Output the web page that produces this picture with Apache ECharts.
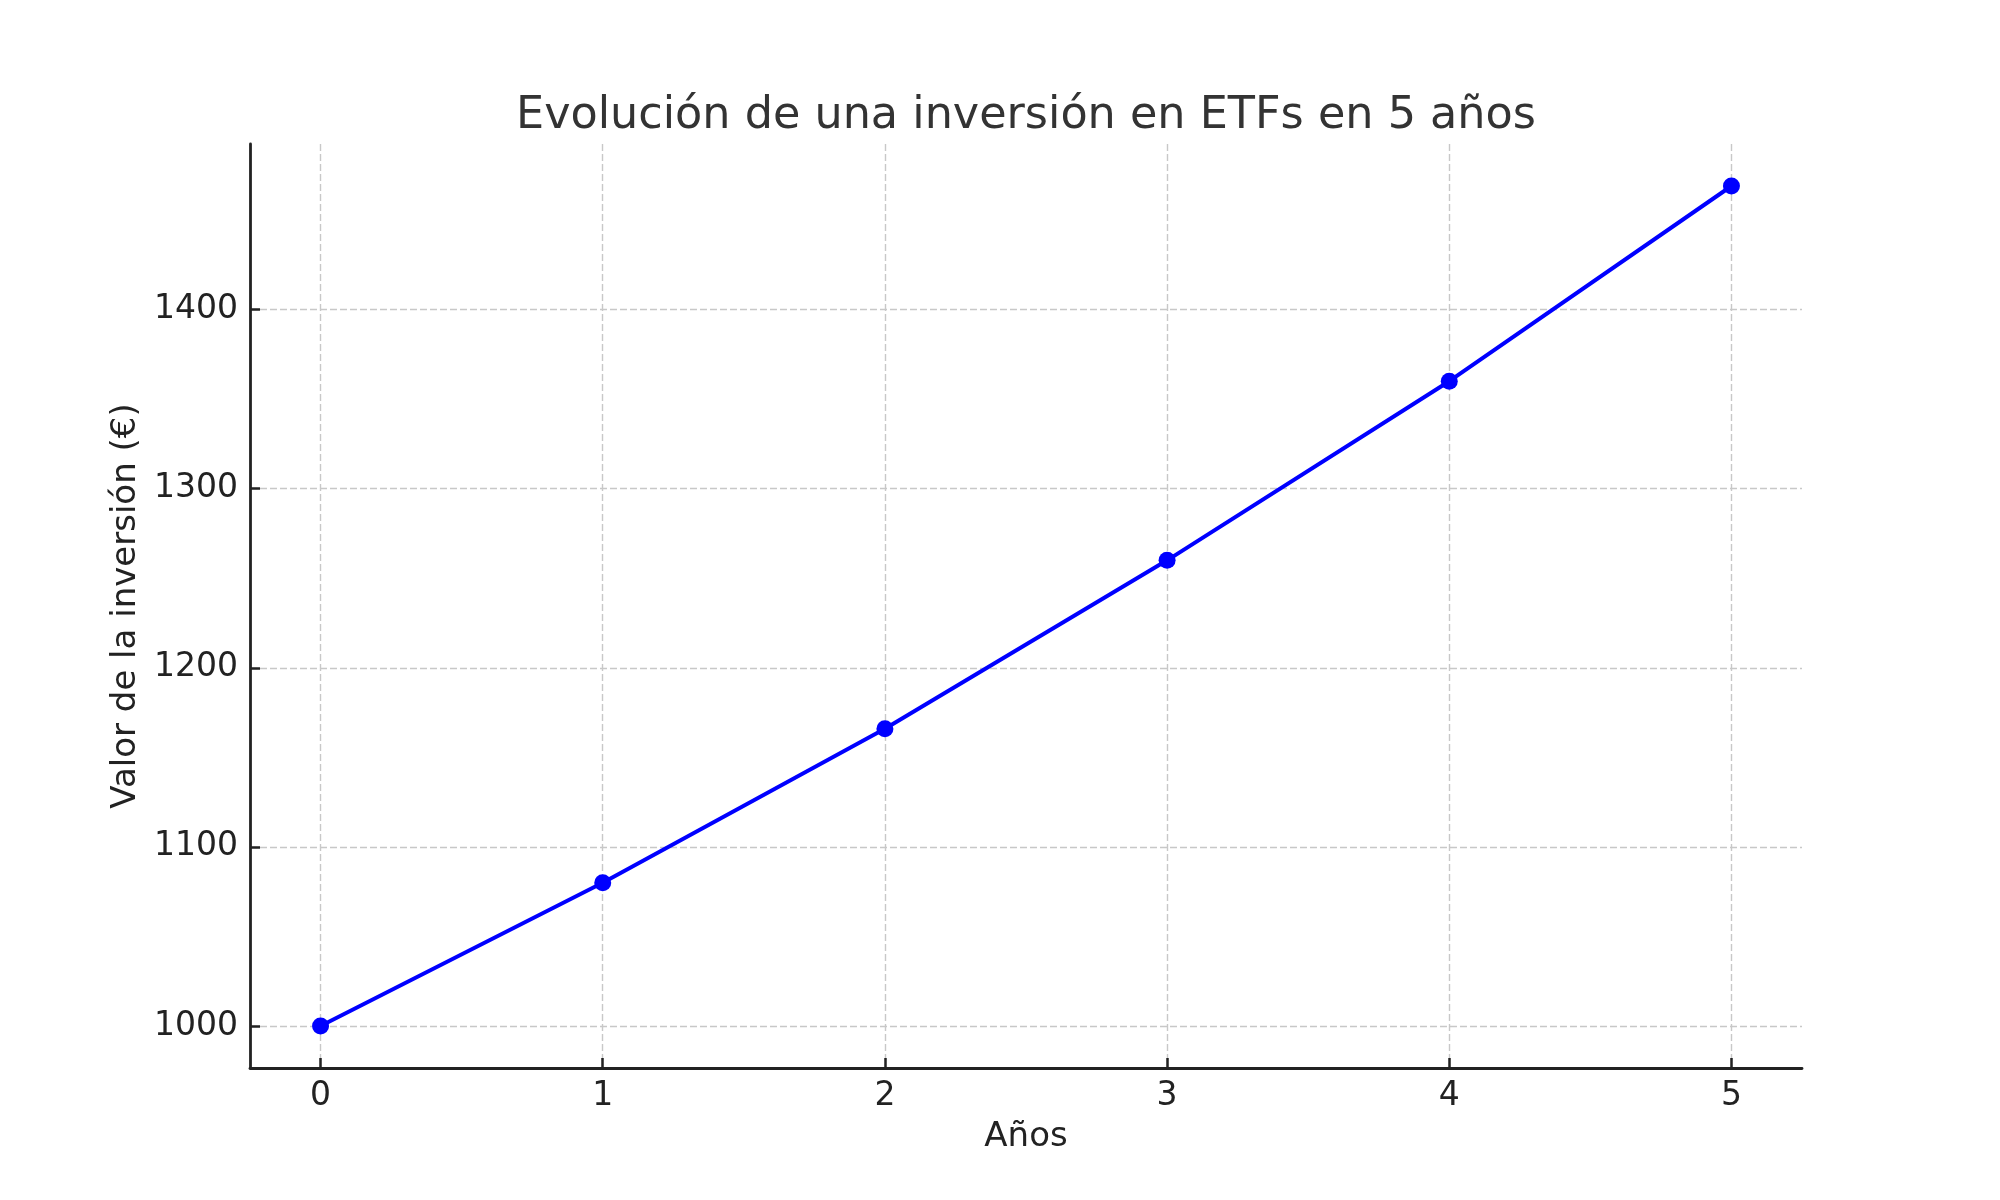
<!DOCTYPE html>
<html>
<head>
<meta charset="utf-8">
<script src="https://cdn.jsdelivr.net/npm/echarts@6/dist/echarts.min.js"></script>
<style>html,body{margin:0;padding:0;background:#fff}#c{width:2000px;height:1200px}</style>
</head>
<body>
<div id="c"></div>
<script>
const years = [0, 1, 2, 3, 4, 5];
const values = [1000, 1080, 1166, 1260, 1360, 1469];
const xTicks = [0, 1, 2, 3, 4, 5];
const yTicks = [1000, 1100, 1200, 1300, 1400];
const titleText = 'Evolución de una inversión en ETFs en 5 años';
const xName = 'Años';
const yName = 'Valor de la inversión (€)';

const chart = echarts.init(document.getElementById('c'), null, {renderer: 'canvas'});
const font = 'DejaVu Sans';
const ymin = Math.min(...values), ymax = Math.max(...values);
const ypad = (ymax - ymin) * 0.05;
const xpad = (Math.max(...years) - Math.min(...years)) * 0.05;

chart.setOption({
  animation: false,
  backgroundColor: '#ffffff',
  title: {
    text: titleText,
    left: 1026,
    textAlign: 'center',
    top: 94,
    padding: 0,
    textStyle: {fontFamily: font, fontSize: 44.5, fontWeight: 'normal', color: '#333333'}
  },
  grid: {left: 250, right: 198, top: 144, bottom: 132, containLabel: false},
  xAxis: {
    type: 'value',
    min: Math.min(...years) - xpad,
    max: Math.max(...years) + xpad,
    name: xName,
    nameLocation: 'middle',
    nameGap: 52,
    nameTextStyle: {fontFamily: font, fontSize: 34, color: '#222222'},
    axisLine: {show: true, onZero: false, lineStyle: {color: '#222222', width: 2.8}},
    axisTick: {show: true, inside: true, length: 10, customValues: xTicks, lineStyle: {color: '#222222', width: 2.5}},
    axisLabel: {customValues: xTicks, formatter: v => String(v), fontFamily: font, fontSize: 33, color: '#222222', margin: 12},
    splitLine: {show: true, lineStyle: {color: '#c8c8c8', width: 1.4, type: [7, 3]}}
  },
  yAxis: {
    type: 'value',
    min: ymin - ypad,
    max: ymax + ypad,
    name: yName,
    nameLocation: 'middle',
    nameGap: 98,
    nameRotate: 90,
    nameTextStyle: {fontFamily: font, fontSize: 34, color: '#222222'},
    axisLine: {show: true, onZero: false, lineStyle: {color: '#222222', width: 2.8}},
    axisTick: {show: true, inside: true, length: 10, customValues: yTicks, lineStyle: {color: '#222222', width: 2.5}},
    axisLabel: {customValues: yTicks, formatter: v => String(v), fontFamily: font, fontSize: 33, color: '#222222', margin: 12},
    splitLine: {show: true, lineStyle: {color: '#c8c8c8', width: 1.4, type: [7, 3]}}
  },
  series: [{
    type: 'line',
    data: years.map((y, i) => [y, values[i]]),
    symbol: 'circle',
    symbolSize: 17,
    lineStyle: {color: '#0000ff', width: 4},
    itemStyle: {color: '#0000ff'},
    z: 5
  }]
});
</script>
</body>
</html>
